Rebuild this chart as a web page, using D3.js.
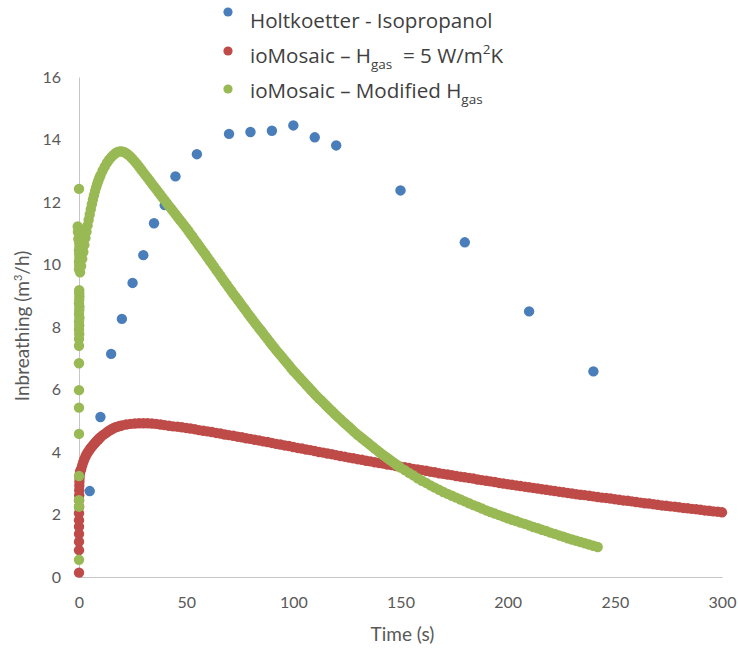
<!DOCTYPE html>
<html><head><meta charset="utf-8">
<script src="https://cdn.jsdelivr.net/npm/d3@7"></script>
<style>body{margin:0;background:#fff} svg{display:block}</style>
</head><body>
<svg id="chart" width="738" height="649"></svg>
<script>
// ---------- data ----------
const xTicks = [0, 50, 100, 150, 200, 250, 300];
const yTicks = [0, 2, 4, 6, 8, 10, 12, 14, 16];
const seriesNames = ["Holtkoetter - Isopropanol", "ioMosaic – Hgas = 5 W/m2K", "ioMosaic – Modified Hgas"];
const seriesColors = ["#4a7ebb", "#be4b48", "#98b954"];

const holtkoetter = [
  [5,2.75],[10,5.12],[15,7.14],[20,8.26],[25,9.41],[30,10.3],[35,11.32],[40,11.9],[45,12.82],
  [55,13.53],[70,14.18],[80,14.24],[90,14.28],[100,14.45],[110,14.07],[120,13.81],
  [150,12.37],[180,10.71],[210,8.5],[240,6.58]
];

const ioMosaicH5 = [
  [0,0.14],[0,0.86],[0,1.13],[0,1.38],[0,1.61],[0,1.82],[0,2.04],[0.05,2.25],[0.05,2.45],[0.1,2.62],
  [0.1,2.78],[0.15,2.92],[0.2,3.05],[0.25,3.17],[0.35,3.28],[0.5,3.36],[0.75,3.42],[1,3.45],[1.5,3.57],
  [2,3.68],[2.5,3.77],[3,3.85],[3.5,3.92],[4,3.98],[4.5,4.03],[5,4.08],[5.5,4.13],[6,4.17],[6.5,4.21],
  [7,4.25],[7.5,4.29],[8,4.33],[8.5,4.37],[9,4.4],[9.5,4.44],[10,4.47],[11,4.53],[12,4.58],[13,4.63],
  [14,4.68],[15,4.72],[16,4.76],[17,4.79],[18,4.81],[19,4.83],[20,4.85],[22,4.88],[24,4.9],[26,4.91],
  [28,4.92],[30,4.92],[32,4.92],[34,4.91],[36,4.9],[38,4.88],[40,4.86],
  [42,4.84],[44,4.82],[46,4.81],[48,4.79],[50,4.77],[52,4.75],[54,4.73],[56,4.70],[58,4.68],[60,4.66],
  [62,4.64],[64,4.61],[66,4.59],[68,4.56],[70,4.54],[72,4.52],[74,4.49],[76,4.47],[78,4.44],[80,4.42],
  [82,4.39],[84,4.37],[86,4.34],[88,4.32],[90,4.29],[92,4.26],[94,4.24],[96,4.21],[98,4.19],[100,4.16],
  [102,4.13],[104,4.11],[106,4.08],[108,4.06],[110,4.03],[112,4.0],[114,3.98],[116,3.95],[118,3.93],[120,3.9],
  [122,3.87],[124,3.85],[126,3.82],[128,3.80],[130,3.77],[132,3.75],[134,3.72],[136,3.70],[138,3.67],[140,3.65],
  [142,3.63],[144,3.60],[146,3.58],[148,3.55],[150,3.53],[152,3.51],[154,3.49],[156,3.46],[158,3.44],[160,3.42],
  [162,3.40],[164,3.37],[166,3.35],[168,3.32],[170,3.30],[172,3.28],[174,3.26],[176,3.23],[178,3.21],[180,3.19],
  [182,3.17],[184,3.15],[186,3.12],[188,3.10],[190,3.08],[192,3.06],[194,3.04],[196,3.01],[198,2.99],[200,2.97],
  [202,2.95],[204,2.93],[206,2.91],[208,2.89],[210,2.87],[212,2.85],[214,2.83],[216,2.81],[218,2.79],[220,2.77],
  [222,2.75],[224,2.73],[226,2.71],[228,2.69],[230,2.67],[232,2.65],[234,2.63],[236,2.62],[238,2.60],[240,2.58],
  [242,2.56],[244,2.54],[246,2.53],[248,2.51],[250,2.49],[252,2.47],[254,2.45],[256,2.44],[258,2.42],[260,2.40],
  [262,2.38],[264,2.36],[266,2.35],[268,2.33],[270,2.31],[272,2.29],[274,2.28],[276,2.26],[278,2.25],[280,2.23],
  [282,2.21],[284,2.20],[286,2.18],[288,2.17],[290,2.15],[292,2.13],[294,2.12],[296,2.10],[298,2.09],[300,2.07]
];

const ioMosaicModified = [
  [0,0.55],[0,2.25],[0,2.46],[0,3.23],[0,4.58],[0,5.42],[0,5.98],[0,6.84],[0,7.4],
  [0,7.62],[0.1,7.78],[0,7.92],[0.1,8.05],[0,8.18],[0.2,8.3],[0,8.42],[0.1,8.54],[0.2,8.65],[0,8.76],
  [0.1,8.87],[0.2,8.98],[0.1,9.08],[0.1,9.18],
  [0,9.85],[0.1,9.98],[0,10.1],[0.2,10.22],[0.1,10.34],[0,10.46],[0.2,10.58],[0.1,10.7],[-0.3,10.82],
  [0.3,10.93],[-0.5,11.04],[0.3,11.14],[-0.6,11.22],[0,12.42],
  [0.5,9.75],[1,9.95],[1.5,10.18],[2,10.4],[2.5,10.63],[3,10.85],[3.5,11.05],[4,11.25],[4.5,11.43],[5,11.6],
  [5.5,11.77],[6,11.93],[6.5,12.08],[7,12.22],[7.5,12.35],[8,12.47],[8.5,12.58],[9,12.68],[9.5,12.77],[10,12.85],
  [11,13.0],[12,13.13],[13,13.25],[14,13.35],[15,13.43],[16,13.5],[17,13.56],[18,13.6],[19,13.62],[20,13.62],
  [21,13.6],[22,13.56],[23,13.51],[24,13.45],[25,13.38],[26,13.3],[27,13.22],[28,13.13],[29,13.04],[30,12.95],
  [31,12.86],[32,12.77],[33,12.68],[34,12.59],[35,12.5],[36,12.41],[37,12.32],[38,12.23],[39,12.14],[40,12.05],
  [41,11.96],[42,11.87],[43,11.79],[44,11.70],[45,11.61],[46,11.52],[47,11.43],[48,11.35],[49,11.26],[50,11.17],
  [51,11.08],[52,10.98],[53,10.89],[54,10.79],[55,10.70],[56,10.60],[57,10.51],[58,10.41],[59,10.32],[60,10.22],
  [61,10.12],[62,10.03],[63,9.93],[64,9.83],[65,9.74],[66,9.64],[67,9.54],[68,9.44],[69,9.35],[70,9.25],
  [71,9.16],[72,9.06],[73,8.97],[74,8.88],[75,8.79],[76,8.69],[77,8.60],[78,8.51],[79,8.41],[80,8.32],
  [81,8.23],[82,8.14],[83,8.05],[84,7.96],[85,7.88],[86,7.79],[87,7.70],[88,7.61],[89,7.52],[90,7.43],
  [91,7.35],[92,7.26],[93,7.18],[94,7.10],[95,7.02],[96,6.93],[97,6.85],[98,6.77],[99,6.68],[100,6.60],
  [101,6.53],[102,6.45],[103,6.38],[104,6.30],[105,6.23],[106,6.15],[107,6.08],[108,6.00],[109,5.93],[110,5.85],
  [111,5.78],[112,5.71],[113,5.65],[114,5.58],[115,5.51],[116,5.44],[117,5.37],[118,5.31],[119,5.24],[120,5.17],
  [121,5.11],[122,5.05],[123,4.98],[124,4.92],[125,4.86],[126,4.80],[127,4.74],[128,4.67],[129,4.61],[130,4.55],
  [131,4.50],[132,4.44],[133,4.39],[134,4.33],[135,4.28],[136,4.22],[137,4.17],[138,4.11],[139,4.06],[140,4.00],
  [141,3.95],[142,3.90],[143,3.85],[144,3.80],[145,3.75],[146,3.70],[147,3.65],[148,3.60],[149,3.55],[150,3.50],
  [152,3.42],[154,3.33],[156,3.25],[158,3.16],[160,3.08],[162,3.01],[164,2.93],[166,2.86],[168,2.79],[170,2.72],
  [172,2.66],[174,2.60],[176,2.54],[178,2.48],[180,2.42],[182,2.36],[184,2.30],[186,2.25],[188,2.19],[190,2.13],
  [192,2.08],[194,2.03],[196,1.98],[198,1.93],[200,1.88],[202,1.83],[204,1.79],[206,1.74],[208,1.70],[210,1.65],
  [212,1.60],[214,1.56],[216,1.51],[218,1.47],[220,1.42],[222,1.38],[224,1.33],[226,1.29],[228,1.24],[230,1.20],
  [232,1.16],[234,1.12],[236,1.08],[238,1.04],[240,1.00],[242,0.96]
];

// ---------- chart ----------
const svg = d3.select("#chart");
const plot = {left: 79, right: 722, top: 77, bottom: 577};
const x = d3.scaleLinear().domain([0, 300]).range([plot.left, plot.right]);
const y = d3.scaleLinear().domain([0, 16]).range([plot.bottom, plot.top]);
const tickFont = "Lato, 'Liberation Sans', sans-serif";
const tickColor = "#595959";
const axisColor = "#c6c6c6";

// y axis
const gy = svg.append("g").attr("transform", `translate(${plot.left},0)`)
  .call(d3.axisLeft(y).tickValues(yTicks).tickFormat(d3.format("d")).tickSize(0).tickPadding(18));
gy.select(".domain").attr("stroke", axisColor).attr("stroke-width", 1);
gy.selectAll("text").attr("font-family", tickFont).attr("font-size", 16).attr("fill", tickColor);

// x axis
const gx = svg.append("g").attr("transform", `translate(0,${plot.bottom})`)
  .call(d3.axisBottom(x).tickValues(xTicks).tickFormat(d3.format("d")).tickSize(0).tickPadding(20));
gx.select(".domain").attr("stroke", axisColor).attr("stroke-width", 1);
gx.selectAll("text").attr("font-family", tickFont).attr("font-size", 16).attr("fill", tickColor);

// axis titles
svg.append("text").attr("x", (plot.left + plot.right) / 2 + 2).attr("y", 641)
  .attr("text-anchor", "middle").attr("font-family", tickFont).attr("font-size", 19)
  .attr("fill", tickColor).text("Time (s)");

const yt = svg.append("text").attr("transform", "translate(29,326) rotate(-90)")
  .attr("text-anchor", "middle").attr("font-family", tickFont).attr("font-size", 19)
  .attr("fill", tickColor);
yt.append("tspan").text("Inbreathing (m");
yt.append("tspan").attr("font-size", 11).attr("dy", -7).text("3");
yt.append("tspan").attr("dy", 7).text("/h)");

// series
const R = 5.2;
const series = [holtkoetter, ioMosaicH5, ioMosaicModified];
series.forEach((data, i) => {
  svg.append("g").selectAll("circle").data(data).join("circle")
    .attr("cx", d => x(d[0])).attr("cy", d => y(d[1])).attr("r", R)
    .attr("fill", seriesColors[i]);
});

// legend
const legendFont = "'Open Sans', 'Noto Sans', sans-serif";
const legendRows = [
  [{t: "Holtkoetter - Isopropanol"}],
  [{t: "ioMosaic – H"}, {t: "gas", sub: true}, {t: "  = 5 W/m"}, {t: "2", sup: true}, {t: "K"}],
  [{t: "ioMosaic – Modified H"}, {t: "gas", sub: true}]
];
const legendY = [28, 63, 98];
const markerY = [12, 51, 89];
legendRows.forEach((row, i) => {
  svg.append("circle").attr("cx", 228).attr("cy", markerY[i]).attr("r", 4.6).attr("fill", seriesColors[i]);
  const t = svg.append("text").attr("x", 250).attr("y", legendY[i])
    .attr("font-family", legendFont).attr("font-size", 20.6).attr("fill", "#404040")
    .attr("xml:space", "preserve").style("white-space", "pre");
  let shift = 0;
  row.forEach(seg => {
    const sp = t.append("tspan").text(seg.t);
    let target = seg.sub ? 6 : seg.sup ? -9 : 0;
    if (target !== shift) sp.attr("dy", target - shift);
    shift = target;
    if (seg.sub || seg.sup) sp.attr("font-size", 13.5);
  });
});
</script>
</body></html>
